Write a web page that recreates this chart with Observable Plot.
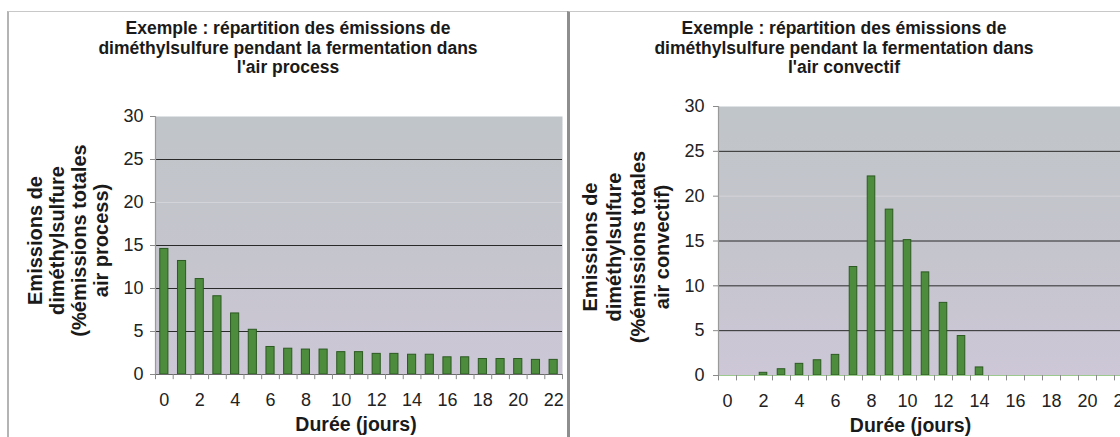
<!DOCTYPE html>
<html><head><meta charset="utf-8">
<script src="https://cdn.jsdelivr.net/npm/d3@7"></script>
<script src="https://cdn.jsdelivr.net/npm/@observablehq/plot@0.6"></script>
<style>
body{margin:0;background:#fff;font-family:"Liberation Sans",Arial,sans-serif;}
#wrap{position:relative;width:1120px;height:437px;overflow:hidden;}
.panel{position:absolute;top:11px;height:440px;border-top:1px solid #c8c8c8;}
#pL{left:7px;width:560px;border-left:2px solid #b4b4b4;}
#pR{left:567px;width:600px;border-left:3px solid #8e8e8e;}
.title{position:absolute;top:19px;font-weight:bold;font-size:17.5px;line-height:19.5px;text-align:center;color:#1a1a1a;white-space:nowrap;}
.chart{position:absolute;top:0;}
.chart svg{max-width:none !important;}
</style></head><body>
<div id="wrap">
  <div class="panel" id="pL"></div>
  <div class="panel" id="pR"></div>
  <div class="chart" id="cL" style="left:0px;width:566px"></div>
  <div class="chart" id="cR" style="left:570px;width:570px"></div>
  <div class="title" id="tL" style="left:8px;width:560px"></div>
  <div class="title" id="tR" style="left:570px;width:548px"></div>
</div>
<script>
// ---- data ----
const days = [0,1,2,3,4,5,6,7,8,9,10,11,12,13,14,15,16,17,18,19,20,21,22];
const xTickLabels = [0,2,4,6,8,10,12,14,16,18,20,22];
const yTicks = [0,5,10,15,20,25,30];
const processValues = [14.6,13.2,11.1,9.1,7.1,5.2,3.2,3.0,2.9,2.9,2.6,2.6,2.4,2.4,2.3,2.3,2.0,2.0,1.8,1.8,1.8,1.7,1.7];
const convectifValues = [0,0,0.3,0.7,1.3,1.7,2.3,12.1,22.2,18.5,15.1,11.5,8.1,4.4,0.9,0,0,0,0,0,0,0,0];
const titleProcess = ["Exemple : répartition des émissions de","diméthylsulfure pendant la fermentation dans","l'air process"];
const titleConvectif = ["Exemple : répartition des émissions de","diméthylsulfure pendant la fermentation dans","l'air convectif"];
const yLabelProcess = ["Emissions de","diméthylsulfure","(%émissions totales","air process)"];
const yLabelConvectif = ["Emissions de","diméthylsulfure","(%émissions totales","air convectif)"];
const xLabel = "Durée (jours)";

document.getElementById("tL").innerHTML = titleProcess.join("<br>");
document.getElementById("tR").innerHTML = titleConvectif.join("<br>");

function makeChart(o) {
  const data = days.map((d, i) => ({day: d, v: o.values[i]})).filter(d => d.v > 0);
  const step = (o.width - o.ml - o.mr) / days.length;
  const inset = step * o.gap / 2;
  const gradId = o.id;
  const defs = () => {
    const ns = "http://www.w3.org/2000/svg";
    const g = document.createElementNS(ns, "defs");
    g.innerHTML = `<linearGradient id="${gradId}" x1="0" y1="0" x2="0" y2="1"><stop offset="0" stop-color="#c0c5c9"/><stop offset="0.55" stop-color="#c5c5cd"/><stop offset="1" stop-color="#cdc7d7"/></linearGradient>`;
    return g;
  };
  return Plot.plot({
    width: o.width, height: 437,
    marginLeft: o.ml, marginRight: o.mr, marginTop: o.mt, marginBottom: o.mb,
    style: {fontFamily: "'Liberation Sans', Arial, sans-serif", fontSize: "18px", color: "#222", background: "transparent", overflow: "visible", maxWidth: "none"},
    x: {type: "band", domain: days, padding: 0, round: false},
    y: {domain: [0, 30]},
    marks: [
      defs,
      Plot.frame({fill: `url(#${gradId})`, stroke: "none"}),
      Plot.ruleY([20], {stroke: "#d3d4da", strokeWidth: 1}),
      Plot.ruleY([5, 10, 15, 25], {stroke: "#2a2a2a", strokeWidth: 1}),
      Plot.barY(data, {x: "day", y: "v", insetLeft: inset, insetRight: inset, fill: "#4d8c3d", stroke: "#2c5a22", strokeWidth: 1}),
      Plot.ruleY([0], {stroke: o.zeroColor, strokeWidth: 1.2}),
      Plot.ruleX([days[0]], {x: d => d, y1: 0, y2: 30, dx: -step / 2, stroke: "#9a9a9a", strokeWidth: 1.2}),
      Plot.ruleX(days, {x: d => d, y1: 0, y2: -0.6, dx: -step / 2, stroke: "#8a8a8a"}),
      Plot.ruleX([days[days.length - 1]], {x: d => d, y1: 0, y2: -0.6, dx: step / 2, stroke: "#8a8a8a"}),
      Plot.axisY({ticks: yTicks, tickSize: 5, tickPadding: o.yPad, stroke: "#8a8a8a", fill: "#222", fontSize: 18, label: null}),
      Plot.axisX({ticks: xTickLabels, tickSize: 0, tickPadding: 19, fill: "#222", fontSize: 18, label: null}),
      Plot.text([xLabel], {frameAnchor: "bottom", text: d => d, dy: 50, dx: o.xLabelDx, lineAnchor: "middle", fontSize: 19.5, fontWeight: "bold", fill: "#1a1a1a"}),
      Plot.text([o.yLabel.join("\n")], {frameAnchor: "left", text: d => d, rotate: -90, dx: o.yLabelDx, dy: o.yLabelDy, textAnchor: "middle", lineAnchor: "middle", lineHeight: o.lh, fontSize: 20, fontWeight: "bold", fill: "#1a1a1a"})
    ]
  });
}

document.getElementById("cL").append(makeChart({
  id: "gL", values: processValues, width: 566, ml: 155, mr: 4, mt: 116, mb: 63, gap: 0.54,
  zeroColor: "#6a6a6a", yLabel: yLabelProcess, yLabelDx: -88, yLabelDy: -5, yPad: 7, xLabelDx: -3, lh: 1.1
}));
document.getElementById("cR").append(makeChart({
  id: "gR", values: convectifValues, width: 570, ml: 148, mr: 8, mt: 106, mb: 62, gap: 0.58,
  zeroColor: "#9cc98e", yLabel: yLabelConvectif, yLabelDx: -93, yLabelDy: 6, yPad: 9, xLabelDx: -15, lh: 1.2
}));
</script>
</body></html>
